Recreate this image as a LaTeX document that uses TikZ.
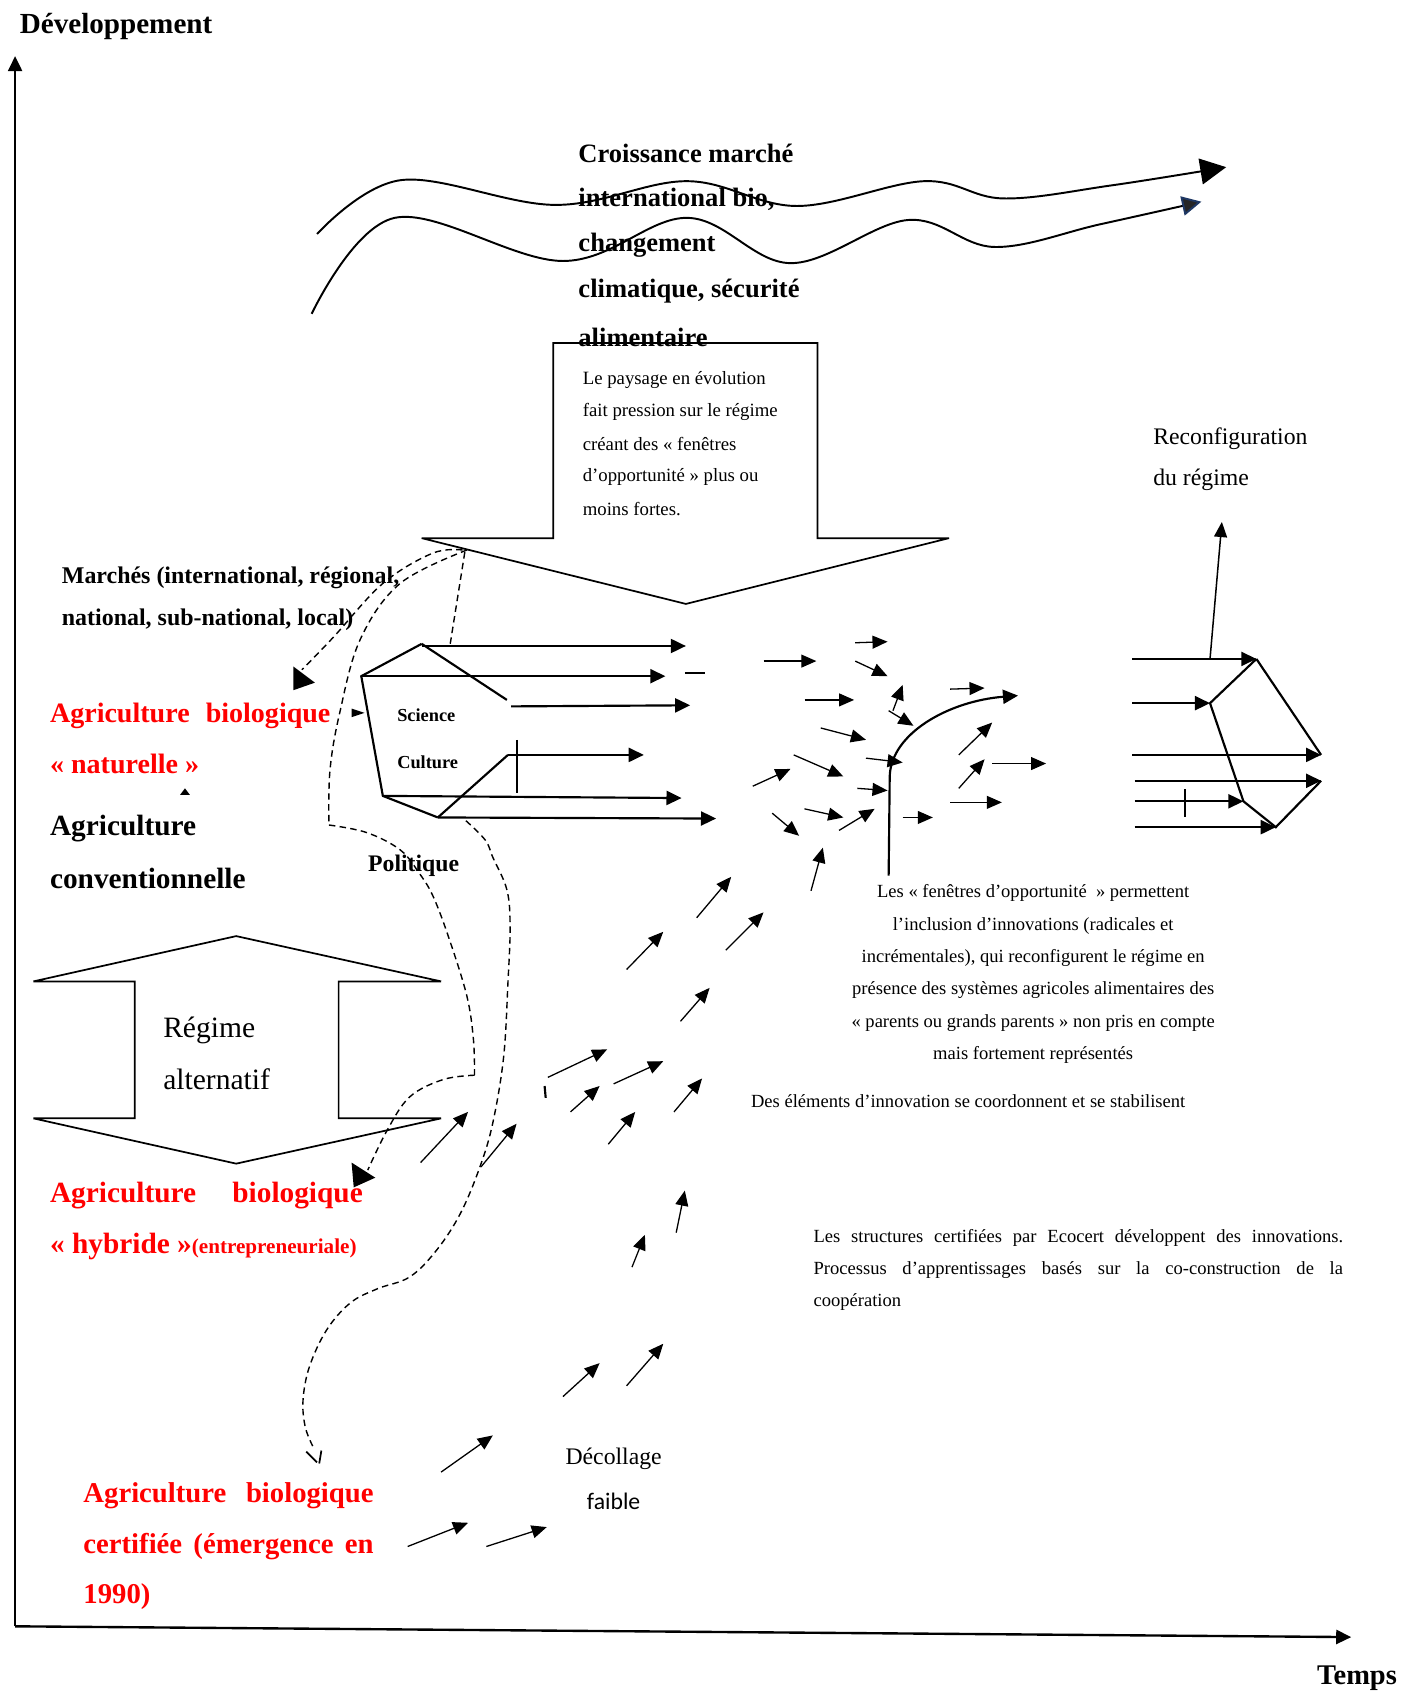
\documentclass[tikz,border=0pt]{standalone}
\usepackage{fontspec}
\setmainfont{Liberation Serif}
\newfontfamily\carlitofont{Carlito}
\usetikzlibrary{arrows.meta}
\newcommand{\myfs}[1]{\fontsize{#1}{#1}\selectfont}
\definecolor{tipblue}{RGB}{31,56,100}
\begin{document}
\begin{tikzpicture}[x=0.5pt,y=-0.5pt,
  axisln/.style={line width=1.1pt,-{Triangle[length=7pt,width=6.5pt]}},
  hexln/.style={line width=1pt},
  harr/.style={line width=1pt,-{Triangle[length=7pt,width=6.5pt]}},
  sarr/.style={line width=0.6pt,-{Triangle[length=7pt,width=6pt]}},
  dsh/.style={line width=0.65pt,dash pattern=on 3pt off 2pt},
  wave/.style={line width=0.9pt},
  bigshape/.style={line width=0.8pt,miter limit=1.5},
  txt/.style={inner sep=0pt,anchor=west,yshift=-1.5pt},
  ctxt/.style={inner sep=0pt,anchor=center,yshift=-1.2pt},
  redb/.style={txt,text=red,font=\bfseries\myfs{13.3}}
]
\useasboundingbox (0,0) rectangle (1313,1568);

% axes
\draw[axisln] (14,1508) -- (14,52);
\draw[axisln] (14,1508) -- (1253,1518);
\node[txt,font=\bfseries\myfs{13.5}] (tdev) at (18,22) {Développement};
\node[txt,font=\bfseries\myfs{13.2}] (ttemps) at (1221,1553) {Temps};

% waves
\draw[wave,-{Triangle[length=12pt,width=12pt]}] plot[smooth,tension=0.6] coordinates {(294,217) (372,167) (515,190) (637,168) (739,191) (857,168) (930,184) (1030,172) (1137,155)};
\draw[wave,-{Triangle[length=9pt,width=9pt,color=tipblue,fill=black!85]}] plot[smooth,tension=0.6] coordinates {(289,291) (366,202) (522,242) (637,202) (733,244) (842,204) (922,229) (1020,208) (1114,187)};

% landscape arrow
\draw[bigshape] (513,318) -- (758,318) -- (758,499) -- (880,499) -- (636,560) -- (391,499) -- (513,499) -- cycle;
\foreach \t [count=\i] in {Croissance marché,{international bio,},changement,{climatique, sécurité},alimentaire}
  \node[txt,font=\bfseries\myfs{12.3}] (tc\i) at (536,{139+42.75*(\i-1)}) {\t};
\foreach \t [count=\i] in {Le paysage en évolution,fait pression sur le régime,créant des « fenêtres,d’opportunité » plus ou,moins fortes.}
  \node[txt,font=\myfs{8.7}] (tp\i) at (540,{349+30*(\i-1)}) {\t};

\node[txt,font=\myfs{11}] (trc1) at (1069,404) {Reconfiguration};
\node[txt,font=\myfs{11}] (trc2) at (1069,442) {du régime};

\node[txt,font=\bfseries\myfs{11.1}] (tm1) at (57,533) {Marchés (international, régional,};
\node[txt,font=\bfseries\myfs{11.1}] (tm2) at (57,572) {national, sub-national, local)};

\node[redb,font=\bfseries\myfs{13}] (tn1) at (46,661) {\makebox[130pt][s]{Agriculture biologique}};
\node[redb,font=\bfseries\myfs{13}] (tn2) at (46,705) {« naturelle »};
\node[txt,font=\bfseries\myfs{13.6}] (tcv1) at (46,765) {Agriculture};
\node[txt,font=\bfseries\myfs{13.6}] (tcv2) at (46,812) {conventionnelle};

% regime alternatif
\draw[bigshape] (31,910) -- (219,868) -- (409,910) -- (314,910) -- (314,1037) -- (409,1037) -- (219,1079) -- (31,1037) -- (125,1037) -- (125,910) -- cycle;
\node[txt,font=\myfs{13.7}] (tra1) at (151,952) {Régime};
\node[txt,font=\myfs{13.7}] (tra2) at (151,998) {alternatif};

\node[redb,font=\bfseries\myfs{13.6}] (th1) at (46,1106) {\makebox[145pt][s]{Agriculture biologique}};
\node[redb,font=\bfseries\myfs{13.6}] (th2) at (46,1153) {« hybride »{\myfs{9.8}(entrepreneuriale)}};

\node[redb] (tce1) at (77,1384) {\makebox[134.5pt][s]{Agriculture biologique}};
\node[redb] (tce2) at (77,1431) {\makebox[134.5pt][s]{certifiée (émergence en}};
\node[redb] (tce3) at (77,1477) {1990)};

% hexagon (regime)
\draw[hexln] (391,597) -- (335,627) -- (355,738) -- (406,758);
\draw[hexln] (391,597) -- (470,649);
\draw[hexln] (406,758) -- (471,700);
\draw[harr] (391,599) -- (636,599);
\draw[harr] (335,627) -- (617,627);
\draw[harr] (474,655) -- (640,654);
\draw[harr] (471,700) -- (597,700);
\draw[hexln] (479,686) -- (479,735);
\draw[harr] (355,738) -- (632,740);
\draw[harr] (406,758) -- (664,759);
\draw[hexln] (635,624) -- (654,624);
\node[txt,font=\bfseries\myfs{8.5}] (tsci) at (368,660) {Science};
\node[txt,font=\bfseries\myfs{8.5}] (tcul) at (368,704) {Culture};
\node[txt,font=\bfseries\myfs{11}] (tpol) at (341,800) {Politique};

% small tips
\fill (326,657) -- (338,661) -- (326,665) -- cycle;
\fill (167,737) -- (176,737) -- (171.5,731) -- cycle;

% dashed curves
\draw[dsh] plot[smooth,tension=0.6] coordinates {(429,510) (401,513) (355,541) (309,591) (280,621)};
\fill (272,618) -- (292,633) -- (272,640) -- cycle;
\draw[dsh] plot[smooth,tension=0.6] coordinates {(433,510) (371,541) (334,593) (315,661) (306,714) (305,765)};
\draw[dsh] plot[smooth,tension=0.6] coordinates {(305,765) (340,772) (371,788) (389,810) (402,832) (417,872) (433,924) (439,964) (440,997)};
\draw[dsh] plot[smooth,tension=0.6] coordinates {(440,997) (411,1001) (380,1017) (359,1048) (341,1085)};
\fill (326,1078) -- (348,1092) -- (328,1101) -- cycle;
\draw[dsh] (431,512) -- (417,600);
\draw[dsh] plot[smooth,tension=0.6] coordinates {(432,761) (450,779) (457,795) (470,825) (473,859) (471,911) (467,980) (457,1041) (445,1082) (427,1125) (405,1159) (380,1184) (350,1195) (325,1208) (303,1233) (287,1267) (281,1298) (283,1323) (290,1341)};
\draw[line width=0.8pt] (284,1346) -- (294,1356);
\draw[line width=0.8pt] (298,1345) -- (296,1357);

% middle cluster
\draw[sarr] (708,613) -- (757,613);
\draw[sarr] (793,596) -- (823,595);
\draw[sarr] (793,613) -- (823,627);
\draw[sarr] (746,649) -- (792,649);
\draw[sarr] (828,659) -- (837,635);
\draw[sarr] (824,659) -- (847,673);
\draw[sarr] (881,639) -- (913,638);
\draw[sarr] (761,675) -- (803,686);
\draw[sarr] (736,700) -- (782,720);
\draw[sarr] (698,729) -- (733,713);
\draw[sarr] (803,703) -- (837,707);
\draw[sarr] (889,700) -- (920,670);
\draw[sarr] (889,731) -- (913,704);
\draw[sarr] (920,708) -- (970,708);
\draw[sarr] (795,731) -- (823,733);
\draw[sarr] (881,744) -- (929,744);
\draw[sarr] (716,754) -- (741,775);
\draw[sarr] (746,750) -- (782,758);
\draw[sarr] (778,770) -- (811,750);
\draw[sarr] (837,758) -- (865,758);
\draw[sarr] (752,826) -- (763,786);
\draw[harr] (824,812) -- (825,720) .. controls (826,680) and (880,650) .. (944,645);

% lower arrows
\draw[sarr] (646,851) -- (678,813);
\draw[sarr] (673,881) -- (708,846);
\draw[sarr] (581,899) -- (615,864);
\draw[sarr] (631,947) -- (658,916);
\draw[sarr] (508,999) -- (563,973);
\draw[sarr] (569,1005) -- (615,984);
\draw[sarr] (529,1031) -- (556,1007);
\draw[sarr] (625,1031) -- (651,1000);
\draw[sarr] (564,1061) -- (589,1031);
\draw[sarr] (390,1078) -- (434,1031);
\draw[sarr] (446,1082) -- (479,1042);
\draw[sarr] (627,1143) -- (635,1104);
\draw[sarr] (586,1175) -- (598,1145);
\draw[sarr] (522,1295) -- (556,1264);
\draw[sarr] (581,1285) -- (615,1246);
\draw[sarr] (409,1365) -- (457,1331);
\draw[sarr] (378,1434) -- (434,1412);
\draw[sarr] (451,1434) -- (507,1416);
\draw[line width=1pt] (505,1007) -- (506,1018);

% reconfigured regime
\draw[harr] (1050,611) -- (1165,611);
\draw[harr] (1050,652) -- (1122,652);
\draw[harr] (1050,700) -- (1225,700);
\draw[harr] (1052,724) -- (1225,724);
\draw[harr] (1052,743) -- (1153,743);
\draw[hexln] (1099,732) -- (1099,758);
\draw[harr] (1052,767) -- (1183,767);
\draw[hexln] (1165,611) -- (1225,700);
\draw[hexln] (1165,611) -- (1122,652) -- (1153,743) -- (1183,767) -- (1225,724);
\draw[line width=0.7pt,-{Triangle[length=7pt,width=6pt]}] (1122,611) -- (1133,484);

% right texts
\foreach \t [count=\i] in {Les « fenêtres d’opportunité \ » permettent,l’inclusion d’innovations (radicales et,{incrémentales), qui reconfigurent le régime en},présence des systèmes agricoles alimentaires des,« parents ou grands parents » non pris en compte,mais fortement représentés}
  \node[ctxt,font=\myfs{8.6}] (tf\i) at (958,{826+30*(\i-1)}) {\t};
\node[txt,font=\myfs{8.6}] (tdes) at (696,1018) {Des éléments d’innovation se coordonnent et se stabilisent};
\node[txt,font=\myfs{8.6}] (te1) at (754,1145) {\makebox[245.5pt][s]{Les structures certifiées par Ecocert développent des innovations.}};
\node[txt,font=\myfs{8.6}] (te2) at (754,1175) {\makebox[245.5pt][s]{Processus d’apprentissages basés sur la co-construction de la}};
\node[txt,font=\myfs{8.6}] (te3) at (754,1204) {coopération};
\node[ctxt,font=\myfs{11}] (tdec) at (569,1350) {Décollage};
\node[ctxt,font=\carlitofont\myfs{11}] (tfai) at (569,1390) {faible};
\end{tikzpicture}
\end{document}
